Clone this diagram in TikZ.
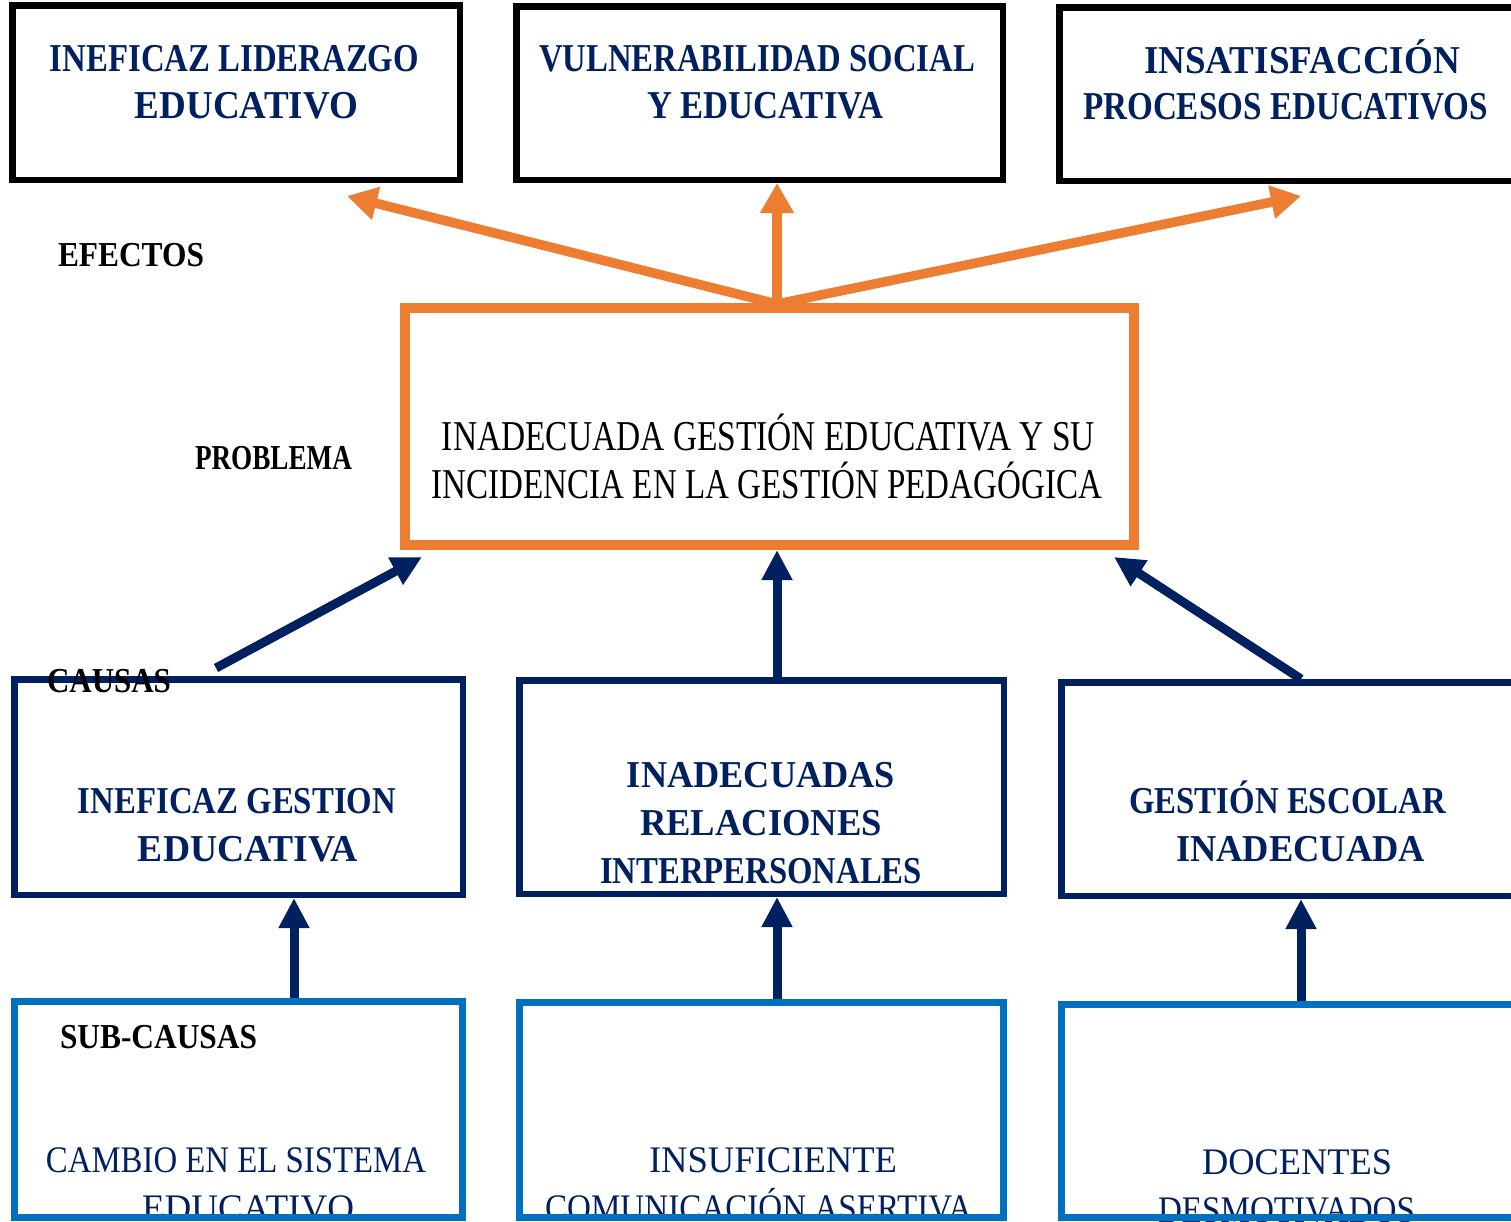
\documentclass[tikz,border=0pt]{standalone}
\usepackage{fontspec}
\usepackage{graphicx}
\setmainfont{Liberation Serif}
\usetikzlibrary{arrows.meta,fit}
\definecolor{navy}{HTML}{002060}
\definecolor{orng}{HTML}{ED7D31}
\definecolor{lblue}{HTML}{0070C0}
\newcommand{\fitw}[2]{\resizebox{#1pt}{\height}{#2}}
\tikzset{
  txt/.style={anchor=base, inner sep=0pt, outer sep=0pt},
  lbl/.style={anchor=base west, inner sep=0pt, outer sep=0pt, text=black, font=\fontsize{35}{42}\selectfont\bfseries},
  efftxt/.style={txt, text=navy, font=\fontsize{39.5}{47}\selectfont\bfseries},
  probtxt/.style={txt, text=black, font=\fontsize{42.5}{49}\selectfont},
  caustxt/.style={txt, text=navy, font=\fontsize{38}{47}\selectfont\bfseries},
  subtxt/.style={txt, text=navy, font=\fontsize{37.5}{47}\selectfont},
  ebox/.style={draw=black, line width=6.5pt, inner sep=0pt},
  pbox/.style={draw=orng, line width=10pt, inner sep=0pt},
  cbox/.style={draw=navy, line width=6.5pt, inner sep=0pt},
  sbox/.style={draw=lblue, line width=7pt, inner sep=0pt},
  oarrow/.style={draw=orng, line width=9.5pt, -{Triangle[length=30pt,width=32pt]}},
  narrow/.style={draw=navy, line width=9pt, -{Triangle[length=30pt,width=29pt]}},
}
\begin{document}
\begin{tikzpicture}[x=1pt,y=-1pt]
\useasboundingbox (0,0) rectangle (1511,1221);
\clip (0,0) rectangle (1511,1221);
\fill[white] (0,0) rectangle (1511,1221);

% sub-cause texts (under the box borders)
\node[subtxt] (s1a) at (236,1172) {\fitw{380}{CAMBIO EN EL SISTEMA}};
\node[subtxt] (s1b) at (248,1220) {\fitw{212}{EDUCATIVO}};
\node[subtxt] (s2a) at (773,1172) {\fitw{248}{INSUFICIENTE}};
\node[subtxt] (s2b) at (758.5,1220) {\fitw{427}{COMUNICACIÓN ASERTIVA}};
\node[subtxt] (s3a) at (1297,1174) {\fitw{190}{DOCENTES}};
\node[subtxt] (s3b) at (1286.5,1222) {\fitw{257}{DESMOTIVADOS}};

% boxes
\node[ebox, fit={(12.25,5.25) (459.75,179.75)}] (E1) {};
\node[ebox, fit={(516.25,6.25) (1002.75,179.75)}] (E2) {};
\node[ebox, fit={(1059.25,7.25) (1530,180.75)}] (E3) {};
\node[pbox, fit={(405,308) (1134,545)}] (P) {};
\node[cbox, fit={(14.25,679.25) (462.75,894.75)}] (C1) {};
\node[cbox, fit={(519.25,680.25) (1003.75,893.75)}] (C2) {};
\node[cbox, fit={(1061.25,682.25) (1530,895.75)}] (C3) {};
\node[sbox, fit={(14.5,1001.5) (462.5,1217.5)}] (S1) {};
\node[sbox, fit={(519.5,1002.5) (1003.5,1217.5)}] (S2) {};
\node[sbox, fit={(1061.5,1004.5) (1530,1217.5)}] (S3) {};

% effect texts
\node[efftxt] (e1a) at (234.5,71) {\fitw{369}{INEFICAZ LIDERAZGO}};
\node[efftxt] (e1b) at (246.5,118) {\fitw{223}{EDUCATIVO}};
\node[efftxt] (e2a) at (757,71) {\fitw{436}{VULNERABILIDAD SOCIAL}};
\node[efftxt] (e2b) at (765,118) {\fitw{236}{Y EDUCATIVA}};
\node[efftxt] (e3a) at (1302,73) {\fitw{316}{INSATISFACCIÓN}};
\node[efftxt] (e3b) at (1285.5,119) {\fitw{405}{PROCESOS EDUCATIVOS}};

% problem text
\node[probtxt] (pa) at (768.5,450) {\fitw{653}{INADECUADA GESTIÓN EDUCATIVA Y SU}};
\node[probtxt] (pb) at (767,498) {\fitw{670}{INCIDENCIA EN LA GESTIÓN PEDAGÓGICA}};

% cause texts
\node[caustxt] (c1a) at (237,813) {\fitw{318}{INEFICAZ GESTION}};
\node[caustxt] (c1b) at (248,861) {\fitw{220}{EDUCATIVA}};
\node[caustxt] (c2a) at (761,787) {\fitw{268}{INADECUADAS}};
\node[caustxt] (c2b) at (761,835) {\fitw{242}{RELACIONES}};
\node[caustxt] (c2c) at (761,883) {\fitw{322}{INTERPERSONALES}};
\node[caustxt] (c3a) at (1287.5,813) {\fitw{317}{GESTIÓN ESCOLAR}};
\node[caustxt] (c3b) at (1300.5,861) {\fitw{249}{INADECUADA}};

% side labels
\node[lbl] (lef) at (58,266) {\fitw{146}{EFECTOS}};
\node[lbl] (lpr) at (195,469) {\fitw{157}{PROBLEMA}};
\node[lbl] (lca) at (47,692) {\fitw{124}{CAUSAS}};
\node[lbl] (lsc) at (60,1048) {\fitw{197}{SUB-CAUSAS}};

% connector end points
\coordinate (po) at (777,304);
\coordinate (tE1) at (347,196);
\coordinate (tE3) at (1301,196);
\coordinate (tPL) at (422,557);
\coordinate (tPR) at (1114,557);
\coordinate (c1o) at (216,668);
\coordinate (c3o) at (1301,679);

% effect arrows
\draw[oarrow] (po) -- (tE1);
\draw[oarrow] (po) -- (E2.south -| 777,0);
\draw[oarrow] (po) -- (tE3);

% cause arrows
\draw[narrow] (c1o) -- (tPL);
\draw[narrow] (C2.north -| 777,0) -- (P.south -| 777,0);
\draw[narrow] (c3o) -- (tPR);

% sub-cause arrows
\draw[narrow] (S1.north -| 294,0) -- (C1.south -| 294,0);
\draw[narrow] (S2.north -| 777,0) -- (C2.south -| 777,0);
\draw[narrow] (S3.north -| 1301,0) -- (C3.south -| 1301,0);
\end{tikzpicture}
\end{document}
